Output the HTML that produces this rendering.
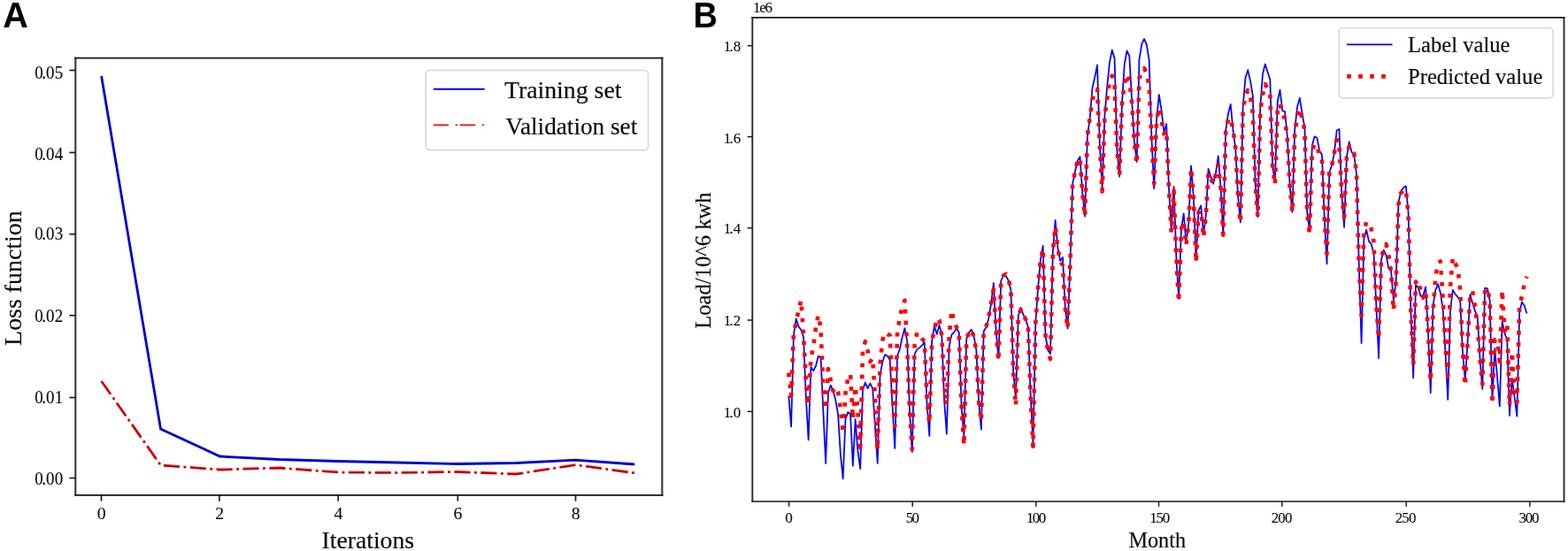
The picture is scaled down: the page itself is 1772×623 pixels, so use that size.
<!DOCTYPE html>
<html lang="en"><head><meta charset="utf-8"><title>Loss function and load prediction</title>
<style>
html,body{margin:0;padding:0;background:#fff;}
body{width:1772px;height:623px;overflow:hidden;}
svg{display:block;}
text{font-family:"Liberation Serif","Times New Roman",serif;fill:#0a0a0a;stroke:#0a0a0a;stroke-width:0.15px;}
.tk{stroke-width:0.1px;}
.panel{font-family:"Liberation Sans",Arial,sans-serif;font-weight:bold;fill:#000;stroke:none;}
</style></head><body>
<svg width="1772" height="623" viewBox="0 0 1772 623">
<rect width="1772" height="623" fill="#ffffff"/>
<g id="chartA">
<polyline fill="none" stroke="#0000f0" stroke-width="2.8" stroke-linejoin="miter" points="114.6,86 181.55,485 248.5,516 315.45,519.5 382.4,521.5 449.35,523 516.3,524.5 583.25,523.5 650.2,520.2 717.15,525"/>
<polyline transform="translate(0.45 0.35)" fill="none" stroke="#000020" stroke-opacity="0.42" stroke-width="1.0" stroke-linejoin="miter" points="114.6,86 181.55,485 248.5,516 315.45,519.5 382.4,521.5 449.35,523 516.3,524.5 583.25,523.5 650.2,520.2 717.15,525"/>
<polyline fill="none" stroke="#f00000" stroke-width="2.8" stroke-linejoin="miter" stroke-dasharray="18.1 4.5 2.8 4.5" points="114.6,431 181.55,526 248.5,531 315.45,529 382.4,534 449.35,534.5 516.3,533.5 583.25,536 650.2,525.6 717.15,534.8"/>
<polyline transform="translate(0.45 0.35)" fill="none" stroke="#200000" stroke-opacity="0.42" stroke-width="1.0" stroke-linejoin="miter" stroke-dasharray="18.1 4.5 2.8 4.5" points="114.6,431 181.55,526 248.5,531 315.45,529 382.4,534 449.35,534.5 516.3,533.5 583.25,536 650.2,525.6 717.15,534.8"/>
<path d="M85.3 64.7V560.7M748.3 64.7V560.7" fill="none" stroke="#383838" stroke-width="2.1"/>
<path d="M84.25 65.6H749.35M84.25 559.8H749.35" fill="none" stroke="#151515" stroke-width="1.8"/>
<line x1="78.4" y1="540.5" x2="85.3" y2="540.5" stroke="#1c1c1c" stroke-width="1.7"/>
<text class="tk" transform="translate(39.3 548.4) scale(0.9500 1)" x="0 8.42 13.37 23.68" y="0" font-size="20">0.00</text>
<line x1="78.4" y1="449.5" x2="85.3" y2="449.5" stroke="#1c1c1c" stroke-width="1.7"/>
<text class="tk" transform="translate(39.3 456.4) scale(0.9500 1)" x="0 8.42 13.37 23.68" y="0" font-size="20">0.01</text>
<line x1="78.4" y1="356.7" x2="85.3" y2="356.7" stroke="#1c1c1c" stroke-width="1.7"/>
<text class="tk" transform="translate(39.3 364.1) scale(0.9500 1)" x="0 8.42 13.37 23.68" y="0" font-size="20">0.02</text>
<line x1="78.4" y1="264.7" x2="85.3" y2="264.7" stroke="#1c1c1c" stroke-width="1.7"/>
<text class="tk" transform="translate(39.3 271.4) scale(0.9500 1)" x="0 8.42 13.37 23.68" y="0" font-size="20">0.03</text>
<line x1="78.4" y1="172.5" x2="85.3" y2="172.5" stroke="#1c1c1c" stroke-width="1.7"/>
<text class="tk" transform="translate(39.3 181.4) scale(0.9500 1)" x="0 8.42 13.37 23.68" y="0" font-size="20">0.04</text>
<line x1="78.4" y1="79.5" x2="85.3" y2="79.5" stroke="#1c1c1c" stroke-width="1.7"/>
<text class="tk" transform="translate(39.3 88.6) scale(0.9500 1)" x="0 8.42 13.37 23.68" y="0" font-size="20">0.05</text>
<line x1="114.5" y1="559.8" x2="114.5" y2="566.7" stroke="#1c1c1c" stroke-width="1.7"/>
<text x="109.75" y="587.3" font-size="19.8" class="tk">0</text>
<line x1="247.9" y1="559.8" x2="247.9" y2="566.7" stroke="#1c1c1c" stroke-width="1.7"/>
<text x="243.25" y="587.3" font-size="19.8" class="tk">2</text>
<line x1="382.2" y1="559.8" x2="382.2" y2="566.7" stroke="#1c1c1c" stroke-width="1.7"/>
<text x="377.4" y="587.3" font-size="19.8" class="tk">4</text>
<line x1="517.3" y1="559.8" x2="517.3" y2="566.7" stroke="#1c1c1c" stroke-width="1.7"/>
<text x="512.43" y="587.3" font-size="19.8" class="tk">6</text>
<line x1="650.5" y1="559.8" x2="650.5" y2="566.7" stroke="#1c1c1c" stroke-width="1.7"/>
<text x="645.75" y="587.3" font-size="19.8" class="tk">8</text>
<text x="363.52" y="619.7" font-size="27.7">Iterations</text>
<text transform="translate(23.7 390.9) rotate(-90) scale(1.0000 1)" font-size="27.9">Loss function</text>
<rect x="481.1" y="79.6" width="251.4" height="90.2" rx="4.5" ry="4.5" fill="#ffffff" stroke="#d4d4d4" stroke-width="1.5"/>
<line x1="489.8" y1="100.8" x2="547.6" y2="100.8" stroke="#0000ff" stroke-width="2.1"/>
<line x1="489.8" y1="141.4" x2="547.6" y2="141.4" stroke="#ff0000" stroke-width="1.9" stroke-dasharray="17.3 7.6 2.3 2.9"/>
<text x="569.91" y="111.4" font-size="27.8">Training set</text>
<text transform="translate(571.26 151.5) scale(0.9800 1)" font-size="27.8">Validation set</text>
</g>
<text transform="translate(3.31 31.2) scale(0.9850 1)" font-size="40.2" class="panel">A</text>
<g id="chartB">
<polyline fill="none" stroke="#0000ff" stroke-width="1.75" stroke-linejoin="round" points="891.3,447.5 894.09,482.5 896.88,379.7 899.67,360.2 902.46,368.9 905.25,372.9 908.04,380.8 910.83,449 913.62,497.5 916.41,414.9 919.2,419.4 921.99,413.8 924.78,402.5 927.57,404.8 930.36,465 933.15,524 935.94,444.7 938.73,435.7 941.52,441.3 944.31,452.6 947.1,468.3 949.89,514 952.68,541.3 955.47,474 958.26,466 961.05,468.3 963.84,526.7 966.63,474 969.42,510 972.21,530.1 975,441.3 977.79,432.4 980.58,439.1 983.37,433.5 986.16,439.1 988.95,483 991.74,524 994.53,423.9 997.32,409.3 1000.11,401 1002.9,402.5 1005.69,407 1008.48,458 1011.27,507 1014.06,402.5 1016.85,394.7 1019.64,381.2 1022.43,371.1 1025.22,385.7 1028.01,465 1030.8,511 1033.59,400.3 1036.38,395.1 1039.17,393.1 1041.96,390.6 1044.75,386.8 1047.54,457 1050.33,493 1053.12,385.7 1055.91,368.8 1058.7,377.8 1061.49,367.7 1064.28,377.8 1067.07,452.6 1069.86,490.8 1072.65,392 1075.44,378.3 1078.23,375.6 1081.02,371.1 1083.81,376 1086.6,460 1089.39,493.6 1092.18,383.5 1094.97,376 1097.76,372.6 1100.55,380 1103.34,396 1106.13,455 1108.92,485.7 1111.71,374.5 1114.5,370 1117.29,360 1120.08,343 1122.87,319.8 1125.66,375 1128.45,405 1131.24,317.5 1134.03,311.5 1136.82,312 1139.61,317 1142.4,328 1145.19,421.7 1147.98,449.8 1150.77,357 1153.56,347.9 1156.35,355.7 1159.14,361 1161.93,370 1164.72,448.7 1167.51,501.5 1170.3,365 1173.09,325.4 1175.88,294 1178.67,277.8 1181.46,379 1184.25,396 1187.04,400 1189.83,285 1192.62,249 1195.41,280.4 1198.2,295 1200.99,291 1203.78,348 1206.57,371.5 1209.36,300 1212.15,207.6 1214.94,194 1217.73,181.8 1220.52,177.3 1223.31,219 1226.1,244.7 1228.89,153.6 1231.68,133.4 1234.47,99.7 1237.26,87.3 1240.05,73.4 1242.84,165 1245.63,212 1248.42,131 1251.21,97.4 1254,70.4 1256.79,56.5 1259.58,66 1262.37,169.4 1265.16,199.8 1267.95,117.6 1270.74,72.7 1273.53,57.4 1276.32,63.3 1279.11,113 1281.9,160.4 1284.69,183 1287.48,67 1290.27,50.2 1293.06,43.9 1295.85,50.7 1298.64,68.2 1301.43,156 1304.22,213.3 1307.01,135.6 1309.8,107 1312.59,124.4 1315.38,150 1318.17,140 1320.96,212.6 1323.75,260 1326.54,211 1329.33,291 1332.12,338 1334.91,259.4 1337.7,241.5 1340.49,275 1343.28,252.7 1346.07,187.5 1348.86,223.5 1351.65,294 1354.44,238 1357.23,232.5 1360.02,265 1362.81,243.7 1365.6,190.9 1368.39,200 1371.18,207.8 1373.97,195.4 1376.76,176.3 1379.55,213 1382.34,265.7 1385.13,148.2 1387.92,129 1390.71,117.9 1393.5,147 1396.29,168.4 1399.08,222 1401.87,251.6 1404.66,120 1407.45,88 1410.24,79.2 1413.03,91.6 1415.82,108.4 1418.61,206.6 1421.4,245.3 1424.19,122 1426.98,83.7 1429.77,72.5 1432.56,81.5 1435.35,90 1438.14,188.7 1440.93,205 1443.72,115 1446.51,101.7 1449.3,125.3 1452.09,126 1454.88,155 1457.67,211 1460.46,240 1463.25,146 1466.04,121 1468.83,110.7 1471.62,128.7 1474.41,144.4 1477.2,240 1479.99,262 1482.78,164.8 1485.57,154.3 1488.36,155.8 1491.15,170.4 1493.94,175 1496.73,247 1499.52,298.4 1502.31,195 1505.1,187 1507.89,172.7 1510.68,147.5 1513.47,146 1516.26,220 1519.05,257 1521.84,178.3 1524.63,160.3 1527.42,171.6 1530.21,175 1533,197 1535.79,300.7 1538.58,388 1541.37,270 1544.16,259.8 1546.95,272.6 1549.74,276 1552.53,287 1555.32,345.6 1558.11,405 1560.9,294 1563.69,282.7 1566.48,288.3 1569.27,303.4 1572.06,306.3 1574.85,340 1577.64,318.7 1580.43,229 1583.22,216.5 1586.01,212 1588.8,210.4 1591.59,241 1594.38,352 1597.17,427.4 1599.96,322 1602.75,325.4 1605.54,334.8 1608.33,334.4 1611.12,324.3 1613.91,375 1616.7,444.3 1619.49,345.5 1622.28,328 1625.07,321.2 1627.86,331 1630.65,350 1633.44,398 1636.23,452 1639.02,351 1641.81,327.9 1644.6,332.6 1647.39,335.6 1650.18,340 1652.97,398 1655.76,429.7 1658.55,387 1661.34,333 1664.13,342.5 1666.92,351.4 1669.71,358.6 1672.5,405 1675.29,440 1678.08,325.7 1680.87,326 1683.66,340 1686.45,452 1689.24,394 1692.03,426.5 1694.82,459.5 1697.61,363.5 1700.4,377 1703.19,383.5 1705.98,470 1708.77,428 1711.56,449 1714.35,470.7 1717.14,353 1719.93,341.4 1722.72,345.7 1725.51,354.6"/>
<polyline fill="none" stroke="#ff0000" stroke-width="4.6" stroke-linejoin="round" stroke-dasharray="4.6 8.4" points="891.3,421.6 894.09,448 896.88,378 899.67,364 902.46,351 905.25,339.6 908.04,378 910.83,431 913.62,458 916.41,405 919.2,392 921.99,370 924.78,356.5 927.57,371 930.36,440 933.15,463 935.94,417 938.73,430 941.52,442 944.31,438 947.1,443 949.89,462 952.68,490 955.47,445 958.26,427 961.05,423 963.84,474 966.63,437 969.42,464 972.21,506 975,397 977.79,386 980.58,396.5 983.37,409 986.16,405 988.95,450 991.74,509 994.53,412 997.32,385 1000.11,376 1002.9,378 1005.69,379 1008.48,440 1011.27,482 1014.06,378 1016.85,358 1019.64,348 1022.43,339.6 1025.22,392 1028.01,465 1030.8,508 1033.59,390 1036.38,376 1039.17,379 1041.96,383 1044.75,386 1047.54,450 1050.33,479 1053.12,385 1055.91,374 1058.7,360 1061.49,362 1064.28,380 1067.07,435 1069.86,458 1072.65,380 1075.44,351 1078.23,363 1081.02,370 1083.81,377 1086.6,460 1089.39,503.7 1092.18,383.5 1094.97,376 1097.76,372.6 1100.55,381 1103.34,397 1106.13,455 1108.92,476 1111.71,374.5 1114.5,369 1117.29,358 1120.08,343 1122.87,327 1125.66,375 1128.45,408.2 1131.24,317.5 1134.03,311.5 1136.82,310 1139.61,315 1142.4,328 1145.19,421.7 1147.98,458.8 1150.77,357 1153.56,350 1156.35,356 1159.14,361 1161.93,370 1164.72,448.7 1167.51,504.8 1170.3,365 1173.09,325.4 1175.88,294 1178.67,281 1181.46,379 1184.25,397 1187.04,406 1189.83,285 1192.62,256 1195.41,280.4 1198.2,296 1200.99,300 1203.78,348 1206.57,371.5 1209.36,300 1212.15,207.6 1214.94,194 1217.73,181.8 1220.52,179 1223.31,219 1226.1,244.7 1228.89,153.6 1231.68,133.4 1234.47,113 1237.26,103 1240.05,100.8 1242.84,165 1245.63,216.6 1248.42,131 1251.21,112 1254,90.7 1256.79,85.7 1259.58,96 1262.37,169.4 1265.16,198.7 1267.95,117.6 1270.74,95 1273.53,84 1276.32,91.8 1279.11,115.4 1281.9,160.4 1284.69,185.2 1287.48,88.4 1290.27,81.2 1293.06,77.2 1295.85,82.8 1298.64,97.4 1301.43,156 1304.22,207.6 1307.01,135.6 1309.8,122 1312.59,135.6 1315.38,151.3 1318.17,147 1320.96,212.6 1323.75,262.8 1326.54,215.6 1329.33,291 1332.12,341.5 1334.91,259.4 1337.7,250 1340.49,277.4 1343.28,252.7 1346.07,190 1348.86,223.5 1351.65,296.5 1354.44,240 1357.23,238 1360.02,268.4 1362.81,243.7 1365.6,195.4 1368.39,202 1371.18,207.8 1373.97,197 1376.76,186.4 1379.55,213 1382.34,265.7 1385.13,150 1387.92,135 1390.71,133.6 1393.5,147 1396.29,168.4 1399.08,222 1401.87,251.6 1404.66,124 1407.45,108.4 1410.24,102 1413.03,110.7 1415.82,127.5 1418.61,206.6 1421.4,245.3 1424.19,126 1426.98,107 1429.77,95 1432.56,100.6 1435.35,108 1438.14,188.7 1440.93,208.9 1443.72,126 1446.51,117.4 1449.3,128.7 1452.09,134.3 1454.88,158 1457.67,211 1460.46,240.3 1463.25,148 1466.04,134 1468.83,123 1471.62,134 1474.41,147 1477.2,240 1479.99,264.8 1482.78,170 1485.57,163.5 1488.36,163.5 1491.15,176 1493.94,180 1496.73,247 1499.52,287.2 1502.31,195 1505.1,187 1507.89,172.7 1510.68,158 1513.47,163.7 1516.26,220 1519.05,245.7 1521.84,178.3 1524.63,165.5 1527.42,171.6 1530.21,173 1533,197 1535.79,300.7 1538.58,357 1541.37,262.5 1544.16,250.8 1546.95,254.6 1549.74,259 1552.53,273.7 1555.32,345.6 1558.11,383 1560.9,294 1563.69,280.4 1566.48,276 1569.27,288.3 1572.06,307.4 1574.85,351 1577.64,318.7 1580.43,231 1583.22,218 1586.01,215 1588.8,214.3 1591.59,243 1594.38,352 1597.17,412.8 1599.96,318.7 1602.75,316.4 1605.54,329.4 1608.33,336.6 1611.12,328.8 1613.91,375 1616.7,431.2 1619.49,352 1622.28,313 1625.07,297.5 1627.86,295.5 1630.65,337.4 1633.44,390 1636.23,425.2 1639.02,324 1641.81,291.5 1644.6,297.9 1647.39,303 1650.18,327.5 1652.97,395 1655.76,436 1658.55,387 1661.34,334.7 1664.13,329.3 1666.92,347 1669.71,368 1672.5,405 1675.29,434.4 1678.08,330 1680.87,325.7 1683.66,340 1686.45,457 1689.24,384 1692.03,386 1694.82,409 1697.61,328 1700.4,374.3 1703.19,366 1705.98,458.7 1708.77,397.7 1711.56,450.6 1714.35,455 1717.14,348 1719.93,334.5 1722.72,320.9 1725.51,312.8"/>
<path d="M850.3 19.1V567.8M1767.5 19.1V567.8" fill="none" stroke="#2a2a2a" stroke-width="1.9"/>
<path d="M849.35 19.9H1768.45M849.35 567H1768.45" fill="none" stroke="#1a1a1a" stroke-width="1.6"/>
<line x1="844.6" y1="465.3" x2="850.3" y2="465.3" stroke="#1c1c1c" stroke-width="1.5"/>
<text class="tk" transform="translate(817.7 471.8) scale(0.9700 1)" x="0 6.91 11.34" y="0" font-size="17.4">1.0</text>
<line x1="844.6" y1="362" x2="850.3" y2="362" stroke="#1c1c1c" stroke-width="1.5"/>
<text class="tk" transform="translate(817.7 367.5) scale(0.9700 1)" x="0 6.91 11.34" y="0" font-size="17.4">1.2</text>
<line x1="844.6" y1="257.85" x2="850.3" y2="257.85" stroke="#1c1c1c" stroke-width="1.5"/>
<text class="tk" transform="translate(817.7 264.2) scale(0.9700 1)" x="0 6.91 11.34" y="0" font-size="17.4">1.4</text>
<line x1="844.6" y1="154.6" x2="850.3" y2="154.6" stroke="#1c1c1c" stroke-width="1.5"/>
<text class="tk" transform="translate(817.7 161.5) scale(0.9700 1)" x="0 6.91 11.34" y="0" font-size="17.4">1.6</text>
<line x1="844.6" y1="51.67" x2="850.3" y2="51.67" stroke="#1c1c1c" stroke-width="1.5"/>
<text class="tk" transform="translate(817.7 58.2) scale(0.9700 1)" x="0 6.91 11.34" y="0" font-size="17.4">1.8</text>
<line x1="891.6" y1="567" x2="891.6" y2="572.7" stroke="#1c1c1c" stroke-width="1.5"/>
<text transform="translate(887.26 591.3) scale(0.9872 1)" font-size="17.4" class="tk">0</text>
<line x1="1031.2" y1="567" x2="1031.2" y2="572.7" stroke="#1c1c1c" stroke-width="1.5"/>
<text transform="translate(1023.83 591.3) scale(0.9700 1)" font-size="17.4" letter-spacing="-1.73" class="tk">50</text>
<line x1="1170.9" y1="567" x2="1170.9" y2="572.7" stroke="#1c1c1c" stroke-width="1.5"/>
<text transform="translate(1160.02 591.3) scale(0.9700 1)" font-size="17.4" letter-spacing="-1.65" class="tk">100</text>
<line x1="1309.5" y1="567" x2="1309.5" y2="572.7" stroke="#1c1c1c" stroke-width="1.5"/>
<text transform="translate(1299.22 591.3) scale(0.9700 1)" font-size="17.4" letter-spacing="-1.19" class="tk">150</text>
<line x1="1448.9" y1="567" x2="1448.9" y2="572.7" stroke="#1c1c1c" stroke-width="1.5"/>
<text transform="translate(1436.84 591.3) scale(0.9700 1)" font-size="17.4" letter-spacing="-0.94" class="tk">200</text>
<line x1="1589.2" y1="567" x2="1589.2" y2="572.7" stroke="#1c1c1c" stroke-width="1.5"/>
<text transform="translate(1576.74 591.3) scale(0.9700 1)" font-size="17.4" letter-spacing="-0.89" class="tk">250</text>
<line x1="1728.85" y1="567" x2="1728.85" y2="572.7" stroke="#1c1c1c" stroke-width="1.5"/>
<text transform="translate(1716.5 591.3) scale(0.9700 1)" font-size="17.4" letter-spacing="-1.28" class="tk">300</text>
<text x="851.01" y="14.2" font-size="17" letter-spacing="-1.3" class="tk">1e6</text>
<text transform="translate(1275.47 618.6) scale(0.9850 1)" font-size="24.6">Month</text>
<text transform="translate(803.3 371.75) rotate(-90) scale(1.0000 1)" font-size="24.6">Load/10^6 kwh</text>
<rect x="1513.4" y="31.6" width="241.6" height="79.2" rx="4" ry="4" fill="#ffffff" stroke="#d4d4d4" stroke-width="1.4"/>
<line x1="1521.9" y1="50.4" x2="1573.6" y2="50.4" stroke="#0000ff" stroke-width="1.75"/>
<line x1="1522.2" y1="86.4" x2="1574.2" y2="86.4" stroke="#ff0000" stroke-width="4.6" stroke-dasharray="4.6 8.4"/>
<text x="1591.06" y="59" font-size="24.6">Label value</text>
<text x="1591.06" y="94.8" font-size="24.6">Predicted value</text>
</g>
<text transform="translate(783.54 31.2) scale(0.9400 1)" font-size="40.4" class="panel">B</text>
</svg>
</body></html>
